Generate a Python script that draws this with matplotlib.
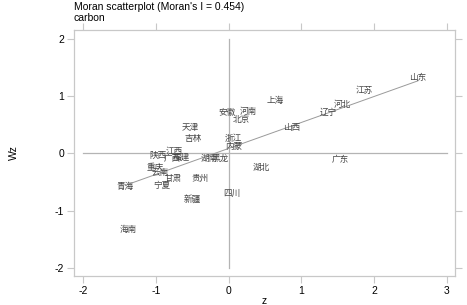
import matplotlib
matplotlib.use("Agg")
import matplotlib.pyplot as plt
import numpy as np

provinces = ["山东", "江苏", "河北", "辽宁", "上海", "山西", "安徽", "河南", "北京",
             "天津", "吉林", "浙江", "内蒙", "广东", "湖北", "江西", "陕西", "广西",
             "福建", "湖南", "黑龙", "重庆", "云南", "甘肃", "贵州", "宁夏", "青海",
             "四川", "新疆", "海南"]
z = [2.60, 1.87, 1.56, 1.37, 0.64, 0.87, -0.02, 0.27, 0.17,
     -0.53, -0.49, 0.07, 0.07, 1.53, 0.45, -0.75, -0.97, -0.78,
     -0.65, -0.27, -0.12, -1.01, -0.94, -0.76, -0.39, -0.91, -1.42,
     0.05, -0.50, -1.38]
wz = [1.32, 1.11, 0.85, 0.71, 0.93, 0.45, 0.72, 0.74, 0.59,
      0.45, 0.27, 0.27, 0.13, -0.11, -0.25, 0.03, -0.04, -0.08,
      -0.06, -0.08, -0.08, -0.25, -0.34, -0.43, -0.43, -0.55, -0.57,
      -0.69, -0.81, -1.32]
moran_i = 0.454
var_name = "carbon"
x_ticks = [-2, -1, 0, 1, 2, 3]
y_ticks = [-2, -1, 0, 1, 2]

W, H = 467, 305
fig = plt.figure(figsize=(W / 100, H / 100), dpi=100)
ax = fig.add_axes([74 / W, 1 - 276 / H, (455 - 74) / W, (276 - 30) / H])

grey = "#b4b4b4"
frame = "#c8c8c8"

# reference lines
ax.plot([0, 0], [min(y_ticks), max(y_ticks)], color=grey, lw=0.9, zorder=1)
ax.plot([min(x_ticks), max(x_ticks)], [0, 0], color=grey, lw=0.9, zorder=1)

# fitted line
za = np.array(z)
wa = np.array(wz)
b = moran_i
a = wa.mean() - b * za.mean()
xs = np.array([za.min(), za.max()])
ax.plot(xs, a + b * xs, color="#9a9a9a", lw=0.7, zorder=2)

for name, xv, yv in zip(provinces, z, wz):
    ax.text(xv, yv, name, ha="center", va="center", fontsize=6.2,
            family=["Noto Sans CJK SC", "DejaVu Sans"], color="#444444", zorder=3)

ax.set_xlim(-2.124, 3.11)
ax.set_ylim(-2.14, 2.157)
ax.set_xticks(x_ticks)
ax.set_yticks(y_ticks)
ax.set_xticklabels([str(t) for t in x_ticks])
ax.set_yticklabels([str(t) for t in y_ticks])
for s in ax.spines.values():
    s.set_color(frame)
    s.set_linewidth(0.9)
ax.tick_params(which="both", direction="out", length=5, width=0.8, color=frame,
               labelsize=7.5, pad=2, top=True, right=True,
               labeltop=False, labelright=False)
for lab in ax.get_xticklabels() + ax.get_yticklabels():
    lab.set_family("Liberation Sans")

ax.set_xlabel("z", fontsize=7.5, family="Liberation Sans", labelpad=0)
ax.set_ylabel("Wz", fontsize=7.5, family="Liberation Sans", labelpad=26)

fig.text(74 / W, 1 - 7 / H, "Moran scatterplot (Moran's I = %.3f)" % moran_i,
         fontsize=7.5, family="Liberation Sans", ha="left", va="center")
fig.text(74 / W, 1 - 18 / H, var_name,
         fontsize=7.5, family="Liberation Sans", ha="left", va="center")

fig.savefig("out.png", dpi=100)
